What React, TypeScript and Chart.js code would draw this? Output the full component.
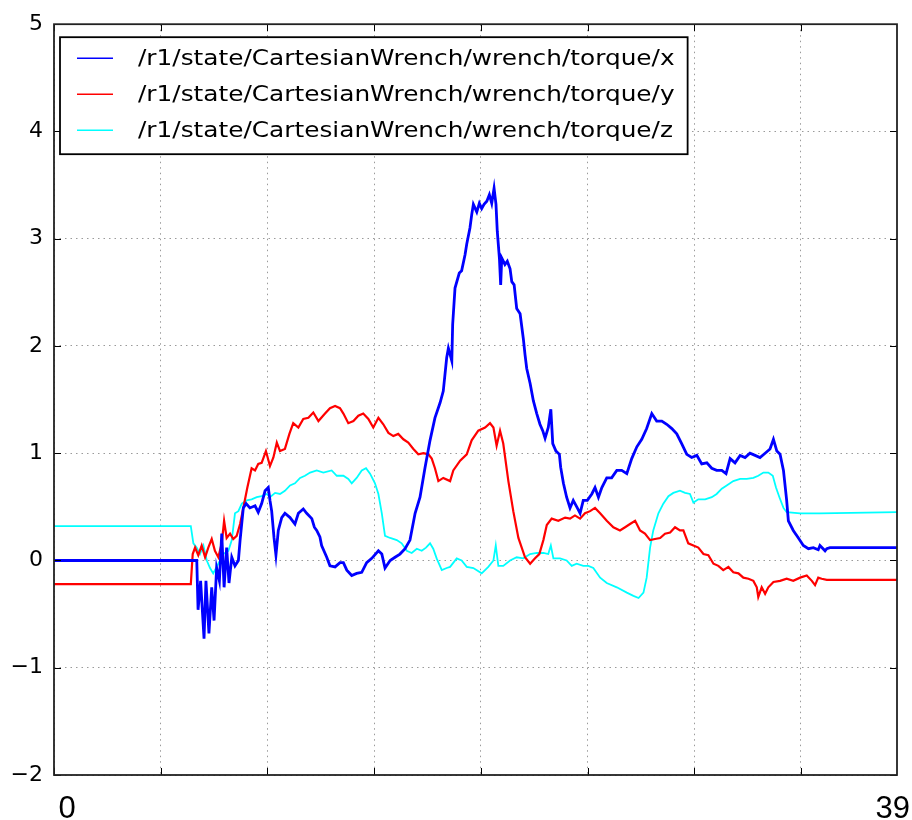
import React, { useEffect, useRef } from "react";
import { Chart, registerables } from "chart.js";

Chart.register(...registerables);

// Topic names shown in the legend
const seriesLabels = [
  "/r1/state/CartesianWrench/wrench/torque/x",
  "/r1/state/CartesianWrench/wrench/torque/y",
  "/r1/state/CartesianWrench/wrench/torque/z",
];
const seriesColors = ["#0000ff", "#ff0000", "#00ffff"];
const seriesWidths = [2.8, 2.2, 1.8];

// Time axis [s] and value axis ticks
const timeMin = 0;
const timeMax = 39.5;
const timeGrid = [0, 5, 10, 15, 20, 25, 30, 35];
const timeEndLabels = ["0", "39"];
const valueTicks = [-2, -1, 0, 1, 2, 3, 4, 5];

// [time, torque] samples
const torqueX: number[][] = [
  [0, 0], [6.47, 0], [6.69, 0], [6.75, -0.46], [6.87, -0.19], [7.03, -0.73], [7.12, -0.19],
  [7.26, -0.68], [7.39, -0.25], [7.5, -0.56], [7.62, -0.07], [7.75, -0.19], [7.86, 0.25],
  [7.97, -0.25], [8.09, 0.12], [8.2, -0.21], [8.33, 0.03], [8.48, -0.05], [8.64, 0],
  [8.72, 0.19], [8.87, 0.49], [9.0, 0.53], [9.18, 0.49], [9.42, 0.51], [9.57, 0.45],
  [9.73, 0.53], [9.89, 0.65], [10.04, 0.68], [10.12, 0.56], [10.2, 0.46], [10.31, 0.21],
  [10.4, 0.05], [10.51, 0.28], [10.67, 0.4], [10.82, 0.44], [11.06, 0.4], [11.29, 0.34],
  [11.45, 0.44], [11.68, 0.48], [11.84, 0.44], [12.08, 0.39], [12.2, 0.31], [12.31, 0.28],
  [12.46, 0.22], [12.54, 0.14], [12.78, 0.03], [12.93, -0.05], [13.17, -0.06], [13.4, -0.02],
  [13.56, -0.02], [13.72, -0.09], [13.95, -0.14], [14.18, -0.12], [14.42, -0.11],
  [14.65, -0.02], [14.89, 0.02], [15.2, 0.09], [15.36, 0.06], [15.51, -0.07], [15.75, 0],
  [15.98, 0.03], [16.21, 0.06], [16.45, 0.11], [16.68, 0.19], [16.92, 0.44], [17.15, 0.59],
  [17.38, 0.86], [17.62, 1.12], [17.85, 1.33], [18.09, 1.47], [18.24, 1.58], [18.4, 1.89],
  [18.48, 1.98], [18.64, 1.86], [18.68, 2.2], [18.79, 2.54], [18.99, 2.68], [19.1, 2.7],
  [19.26, 2.85], [19.34, 2.95], [19.49, 3.1], [19.57, 3.22], [19.65, 3.32], [19.81, 3.25],
  [19.93, 3.33], [20.04, 3.28], [20.15, 3.32], [20.28, 3.35], [20.4, 3.41], [20.51, 3.33],
  [20.62, 3.47], [20.71, 3.32], [20.77, 3.07], [20.87, 2.82], [20.93, 2.57], [20.98, 2.82],
  [21.13, 2.76], [21.24, 2.79], [21.37, 2.72], [21.45, 2.6], [21.56, 2.57], [21.68, 2.35],
  [21.84, 2.3], [21.99, 2.07], [22.07, 1.92], [22.15, 1.79], [22.31, 1.65], [22.46, 1.49],
  [22.62, 1.37], [22.77, 1.27], [22.9, 1.21], [23.01, 1.14], [23.16, 1.24], [23.28, 1.41],
  [23.37, 1.09], [23.52, 1.02], [23.68, 0.99], [23.74, 0.87], [23.87, 0.72], [24.02, 0.59],
  [24.18, 0.49], [24.33, 0.56], [24.52, 0.49], [24.65, 0.44], [24.8, 0.56], [24.99, 0.56],
  [25.2, 0.62], [25.35, 0.68], [25.51, 0.59], [25.67, 0.68], [25.9, 0.77], [26.13, 0.77],
  [26.37, 0.84], [26.6, 0.84], [26.84, 0.81], [27.07, 0.95], [27.31, 1.06], [27.54, 1.13],
  [27.77, 1.23], [28.01, 1.37], [28.24, 1.3], [28.48, 1.3], [28.71, 1.27], [28.95, 1.23],
  [29.18, 1.18], [29.41, 1.09], [29.65, 0.99], [29.88, 0.96], [30.12, 0.98], [30.35, 0.9],
  [30.59, 0.91], [30.82, 0.86], [31.05, 0.84], [31.29, 0.84], [31.49, 0.81], [31.68, 0.95],
  [31.91, 0.91], [32.15, 0.98], [32.38, 0.96], [32.61, 1.0], [32.85, 0.98], [33.08, 0.96],
  [33.32, 1.0], [33.55, 1.04], [33.71, 1.13], [33.87, 1.02], [34.02, 0.99], [34.18, 0.84],
  [34.33, 0.56], [34.41, 0.37], [34.64, 0.28], [34.88, 0.21], [35.11, 0.14], [35.35, 0.11],
  [35.58, 0.12], [35.81, 0.1], [35.89, 0.14], [36.13, 0.09], [36.21, 0.11], [36.36, 0.12],
  [39.5, 0.12],
];

const torqueY: number[][] = [
  [0, -0.22], [6.41, -0.22], [6.5, 0.06], [6.61, 0.12], [6.76, 0.05], [6.92, 0.14], [7.08, 0.03],
  [7.23, 0.12], [7.39, 0.2], [7.54, 0.09], [7.7, 0.03], [7.86, 0.16], [7.97, 0.37], [8.09, 0.21],
  [8.25, 0.25], [8.4, 0.2], [8.56, 0.23], [8.72, 0.34], [8.87, 0.49], [9.06, 0.68], [9.26, 0.86],
  [9.42, 0.84], [9.57, 0.9], [9.73, 0.91], [9.93, 1.02], [10.12, 0.88], [10.28, 0.96],
  [10.44, 1.1], [10.59, 1.02], [10.82, 1.04], [11.03, 1.18], [11.21, 1.28], [11.45, 1.24],
  [11.68, 1.32], [11.92, 1.33], [12.15, 1.38], [12.39, 1.3], [12.7, 1.37], [12.93, 1.42],
  [13.17, 1.44], [13.4, 1.42], [13.56, 1.37], [13.79, 1.28], [14.03, 1.3], [14.26, 1.35],
  [14.49, 1.37], [14.73, 1.32], [14.96, 1.24], [15.2, 1.33], [15.43, 1.27], [15.67, 1.19],
  [15.9, 1.16], [16.13, 1.18], [16.37, 1.13], [16.6, 1.1], [16.84, 1.04], [17.07, 0.99],
  [17.31, 1.0], [17.54, 0.99], [17.7, 0.95], [17.85, 0.86], [18.01, 0.74], [18.24, 0.77],
  [18.56, 0.74], [18.71, 0.84], [19.03, 0.93], [19.34, 0.99], [19.57, 1.12], [19.88, 1.21],
  [20.2, 1.24], [20.43, 1.28], [20.59, 1.24], [20.74, 1.07], [20.9, 1.21], [21.05, 1.09],
  [21.29, 0.74], [21.52, 0.46], [21.76, 0.21], [22.07, 0.03], [22.31, -0.03], [22.54, 0.02],
  [22.74, 0.06], [22.93, 0.19], [23.09, 0.33], [23.32, 0.39], [23.63, 0.37], [23.95, 0.4],
  [24.18, 0.39], [24.41, 0.42], [24.65, 0.39], [24.88, 0.44], [25.12, 0.46], [25.35, 0.49],
  [25.59, 0.44], [25.9, 0.37], [26.21, 0.31], [26.52, 0.28], [26.76, 0.31], [26.99, 0.34],
  [27.23, 0.37], [27.46, 0.28], [27.69, 0.25], [27.93, 0.19], [28.16, 0.2], [28.4, 0.21],
  [28.63, 0.25], [28.87, 0.26], [29.1, 0.31], [29.33, 0.28], [29.49, 0.28], [29.72, 0.16],
  [29.96, 0.14], [30.19, 0.12], [30.43, 0.06], [30.66, 0.05], [30.9, -0.03], [31.13, -0.05],
  [31.36, -0.09], [31.6, -0.06], [31.83, -0.11], [32.07, -0.12], [32.3, -0.16], [32.54, -0.17],
  [32.77, -0.19], [32.93, -0.25], [33.0, -0.34], [33.16, -0.25], [33.32, -0.31], [33.47, -0.25],
  [33.71, -0.2], [34.02, -0.19], [34.33, -0.17], [34.64, -0.19], [34.96, -0.16], [35.27, -0.14],
  [35.51, -0.19], [35.66, -0.23], [35.81, -0.16], [35.97, -0.17], [36.21, -0.18], [39.5, -0.18],
];

const torqueZ: number[][] = [
  [0, 0.32], [6.41, 0.32], [6.53, 0.16], [6.69, 0.12], [6.84, 0.06], [7.0, 0.14], [7.16, 0],
  [7.31, -0.07], [7.46, -0.12], [7.62, -0.06], [7.78, 0], [7.93, 0.06], [8.17, 0.09],
  [8.33, 0.19], [8.48, 0.44], [8.64, 0.46], [8.8, 0.53], [9.03, 0.56], [9.26, 0.57], [9.5, 0.59],
  [9.73, 0.6], [9.97, 0.62], [10.12, 0.59], [10.36, 0.63], [10.59, 0.62], [10.82, 0.65],
  [11.06, 0.7], [11.29, 0.72], [11.53, 0.77], [11.76, 0.79], [12.0, 0.82], [12.31, 0.84],
  [12.62, 0.82], [13.01, 0.84], [13.25, 0.79], [13.56, 0.79], [13.79, 0.76], [13.95, 0.72],
  [14.18, 0.77], [14.42, 0.84], [14.62, 0.86], [14.81, 0.81], [15.04, 0.72], [15.2, 0.62],
  [15.36, 0.44], [15.51, 0.23], [15.75, 0.21], [16.06, 0.19], [16.29, 0.16], [16.53, 0.09],
  [16.76, 0.07], [17.0, 0.11], [17.23, 0.09], [17.43, 0.12], [17.62, 0.16], [17.77, 0.11],
  [17.93, 0.02], [18.17, -0.09], [18.4, -0.07], [18.56, -0.06], [18.87, 0.02], [19.1, 0],
  [19.34, -0.06], [19.65, -0.07], [20.04, -0.12], [20.35, -0.06], [20.59, 0], [20.7, 0.14],
  [20.82, -0.05], [21.05, -0.05], [21.37, 0], [21.68, 0.03], [21.99, 0.02], [22.31, 0.06],
  [22.62, 0.07], [22.93, 0.07], [23.16, 0.06], [23.28, 0.14], [23.4, 0.02], [23.71, 0.02],
  [24.02, 0], [24.26, -0.05], [24.49, -0.03], [24.8, -0.05], [25.04, -0.05], [25.27, -0.07],
  [25.59, -0.16], [25.9, -0.21], [26.37, -0.25], [26.84, -0.3], [27.15, -0.33], [27.39, -0.35],
  [27.62, -0.3], [27.77, -0.16], [27.93, 0.12], [28.08, 0.28], [28.32, 0.44], [28.55, 0.53],
  [28.79, 0.6], [29.02, 0.63], [29.33, 0.65], [29.57, 0.63], [29.8, 0.62], [29.96, 0.54],
  [30.19, 0.57], [30.51, 0.57], [30.82, 0.59], [31.05, 0.62], [31.29, 0.67], [31.52, 0.7],
  [31.83, 0.74], [32.15, 0.76], [32.46, 0.76], [32.77, 0.77], [33.0, 0.79], [33.24, 0.82],
  [33.47, 0.82], [33.68, 0.79], [33.83, 0.68], [33.99, 0.59], [34.18, 0.49], [34.33, 0.45],
  [34.96, 0.44], [35.89, 0.44], [39.5, 0.45],
];

const seriesData = [torqueX, torqueY, torqueZ];

const LEGEND_FONT = '21px "DejaVu Sans", sans-serif';
const LEGEND_STRETCH = 1.18;
const END_LABEL_FONT = '31px "Liberation Sans Narrow", "Liberation Sans", sans-serif';

// Black frame, inward tick marks, boxed legend and the two time labels
const plotDecorations = {
  id: "plotDecorations",
  afterDatasetsDraw(chart: any) {
    const { ctx, chartArea } = chart;
    const { left, right, top, bottom } = chartArea;
    const xs = chart.scales.x;
    const ys = chart.scales.y;
    ctx.save();

    // inward ticks
    ctx.strokeStyle = "#000";
    ctx.lineWidth = 1;
    ctx.beginPath();
    for (const v of valueTicks) {
      const y = Math.round(ys.getPixelForValue(v)) + 0.5;
      ctx.moveTo(left, y);
      ctx.lineTo(left + 7, y);
      ctx.moveTo(right, y);
      ctx.lineTo(right - 7, y);
    }
    for (const t of timeGrid) {
      const x = Math.round(xs.getPixelForValue(t)) + 0.5;
      ctx.moveTo(x, bottom);
      ctx.lineTo(x, bottom - 7);
      ctx.moveTo(x, top);
      ctx.lineTo(x, top + 7);
    }
    ctx.stroke();

    // frame
    ctx.lineWidth = 1.8;
    ctx.strokeStyle = "#222";
    ctx.strokeRect(left, top, right - left, bottom - top);

    // legend
    ctx.font = LEGEND_FONT;
    const textX = left + 84;
    let maxW = 0;
    for (const s of seriesLabels) maxW = Math.max(maxW, ctx.measureText(s).width * LEGEND_STRETCH);
    const boxL = left + 6;
    const boxT = top + 13;
    const boxR = textX + maxW + 13;
    const rowH = 36;
    const boxB = boxT + rowH * seriesLabels.length + 9;
    ctx.fillStyle = "#fff";
    ctx.fillRect(boxL, boxT, boxR - boxL, boxB - boxT);
    ctx.lineWidth = 1.8;
    ctx.strokeStyle = "#000";
    ctx.strokeRect(boxL, boxT, boxR - boxL, boxB - boxT);
    seriesLabels.forEach((label, i) => {
      const cy = boxT + 21 + i * rowH;
      ctx.strokeStyle = seriesColors[i];
      ctx.lineWidth = 1.6;
      ctx.beginPath();
      ctx.moveTo(left + 23, cy);
      ctx.lineTo(left + 59, cy);
      ctx.stroke();
      ctx.save();
      ctx.translate(textX, cy + 1);
      ctx.scale(LEGEND_STRETCH, 1);
      ctx.fillStyle = "#000";
      ctx.textBaseline = "middle";
      ctx.textAlign = "left";
      ctx.fillText(label, 0, 0);
      ctx.restore();
    });

    // time labels at both ends of the axis
    ctx.font = END_LABEL_FONT;
    ctx.fillStyle = "#000";
    ctx.textBaseline = "alphabetic";
    ctx.textAlign = "center";
    ctx.fillText(timeEndLabels[0], left + 13, bottom + 43);
    ctx.textAlign = "right";
    ctx.fillText(timeEndLabels[1], right + 13, bottom + 43);
    ctx.restore();
  },
};

export default function App() {
  const canvasRef = useRef<HTMLCanvasElement | null>(null);

  useEffect(() => {
    document.body.style.margin = "0";
    const canvas = canvasRef.current;
    if (!canvas) return;
    const chart = new Chart(canvas, {
      type: "line",
      data: {
        datasets: seriesData.map((pts, i) => ({
          label: seriesLabels[i],
          data: pts.map(([t, v]) => ({ x: t, y: v })),
          borderColor: seriesColors[i],
          borderWidth: seriesWidths[i],
          pointRadius: 0,
          tension: 0,
          fill: false,
        })),
      },
      options: {
        animation: false,
        responsive: true,
        maintainAspectRatio: false,
        layout: { padding: { top: 22, right: 15, left: 0, bottom: 0 } },
        plugins: { legend: { display: false }, tooltip: { enabled: false } },
        scales: {
          x: {
            type: "linear",
            min: timeMin,
            max: timeMax,
            afterBuildTicks: (s: any) => {
              s.ticks = timeGrid.map((v) => ({ value: v }));
            },
            afterFit: (s: any) => {
              s.height = 45;
            },
            ticks: { display: false },
            grid: { color: "#9a9a9a", lineWidth: 1, drawTicks: false, tickLength: 0 },
            border: { display: false, dash: [1.5, 4] },
          },
          y: {
            type: "linear",
            min: valueTicks[0],
            max: valueTicks[valueTicks.length - 1],
            afterBuildTicks: (s: any) => {
              s.ticks = valueTicks.map((v) => ({ value: v }));
            },
            afterFit: (s: any) => {
              s.width = 54;
            },
            ticks: {
              color: "#000",
              padding: 11,
              font: { family: '"DejaVu Sans", sans-serif', size: 22 },
              callback: (v: any) => String(v).replace("-", "\u2212"),
            },
            grid: { color: "#9a9a9a", lineWidth: 1, drawTicks: false, tickLength: 0 },
            border: { display: false, dash: [1.5, 4] },
          },
        },
      },
      plugins: [plotDecorations],
    });
    return () => chart.destroy();
  }, []);

  return (
    <div style={{ width: 912, height: 820, position: "relative", background: "#fff" }}>
      <canvas ref={canvasRef} />
    </div>
  );
}
